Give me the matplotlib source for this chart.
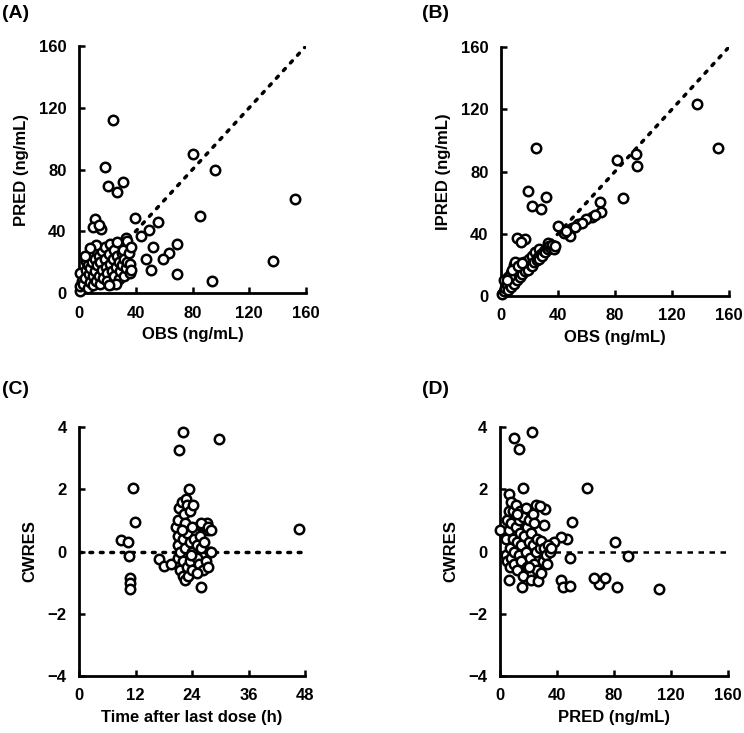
import matplotlib
matplotlib.use("Agg")
import matplotlib.pyplot as plt

plt.rcParams['font.family'] = ['Liberation Sans', 'DejaVu Sans']

# ---------------- Panel A: OBS vs PRED ----------------
a_obs = [24, 18.5, 20.5, 27, 31, 80.5, 96, 152, 85, 137, 94, 69, 69, 63.5, 59, 52, 56, 49.5, 44,
         39.5, 47.5, 51, 33, 11, 10, 15.5, 14,
         1, 1, 1, 2, 3, 4, 5, 5, 6, 6, 7, 7, 8, 8, 9, 9, 10, 10, 11, 11, 12, 12, 13, 14, 14, 15,
         15, 16, 16, 17, 18, 18, 19, 20, 20, 21, 22, 22, 23, 23, 24, 25, 25, 26, 27, 27, 28, 28,
         29, 30, 30, 31, 32, 32, 33, 34, 34, 35, 36, 36, 37, 37, 12, 8, 4, 26, 21]
a_pred = [112, 81.5, 69, 65.5, 72, 90, 80, 61, 50, 21, 8, 12, 32, 26, 22, 30, 46, 41, 37,
          48.5, 22, 15, 35.5, 48, 43, 41.5, 44,
          1, 4.5, 13, 8, 6, 10, 15, 21, 3, 18, 12, 24, 7, 16, 20, 26, 5, 11, 14, 22, 28, 8, 18, 24,
          11, 6, 20, 27, 15, 10, 22, 30, 17, 13, 8, 25, 32, 19, 6, 14, 22, 28, 11, 17, 24, 33, 20,
          9, 14, 26, 18, 28, 11, 22, 16, 34, 20, 26, 13, 19, 15, 30, 31, 29, 24, 6, 5]

# ---------------- Panel B: OBS vs IPRED ----------------
b_obs = [137.3, 152.5, 24.3, 19.2, 22, 27.8, 31.6, 81.2, 94.7, 95.7, 85.8, 69.7, 70.2, 63.6, 60,
         54.3, 49.6, 48.4, 44.4, 40.2, 66, 11, 16.8, 14, 57, 52, 45.5,
         1, 2, 2, 3, 4, 5, 5, 6, 7, 7, 8, 9, 9, 10, 11, 11, 12, 13, 13, 14, 15, 16, 17, 17, 18,
         19, 20, 21, 22, 22, 23, 24, 25, 26, 27, 27, 28, 29, 30, 31, 32, 33, 33, 34, 35, 36, 37,
         38, 6, 10, 8, 12, 15, 4]
b_ipred = [123.2, 94.8, 95.4, 67.4, 58, 55.6, 63.3, 87.7, 91, 83.6, 63.1, 60.5, 53.7, 50.5, 49.2,
           46.2, 43.4, 38.5, 40.2, 45, 52, 37.4, 36.4, 34.5, 47, 44.5, 42,
           1, 3, 10, 5, 7, 4, 12, 9, 6, 15, 11, 8, 20, 13, 10, 18, 15, 12, 21, 17, 14, 22, 19, 16,
           21, 17, 24, 20, 26, 19, 22, 28, 23, 25, 24, 30, 27, 26, 29, 28, 31, 34, 30, 32, 31, 33,
           30, 32, 13, 22, 17, 19, 21, 10]

# ---------------- Panel C: time vs CWRES ----------------
c_time = [22.1, 21.3, 29.8, 11.5, 23.4, 11.8, 46.8, 8.9, 10.4, 10.6, 10.8, 10.8, 10.8, 17, 18,
          19.6, 26, 27.4, 27.1, 25.7, 27.8, 27.1, 25.7,
          20.5, 21, 21, 21, 21, 21.3, 21.5, 21.5, 21.8, 22, 22, 22, 22.3, 22.5, 22.5, 22.5, 22.7,
          23, 23, 23, 23.2, 23.5, 23.5, 23.6, 24, 24, 24, 24.3, 24.5, 25, 25, 25.5, 25.8, 26, 26,
          26.3, 26.5, 27, 27.3, 27.5, 28, 28, 25, 21.8, 23.8]
c_cwres = [3.85, 3.25, 3.6, 2.05, 2.0, 0.95, 0.72, 0.38, 0.3, -0.13, -0.85, -1.0, -1.2, -0.25,
           -0.45, -0.4, -1.15, 0.7, 0.9, 0.85, 0.0, -0.5, -0.55,
           0.8, 1.0, 0.5, 0.2, -0.2, 1.4, -0.6, 0.0, 1.6, -0.8, 0.4, -0.3, 1.2, 0.9, -0.9, 0.1, 1.7,
           -0.5, 0.6, 1.5, -0.8, 0.3, -0.3, 1.3, 0.0, 0.8, -0.6, 1.5, 0.4, -0.2, 0.2, -0.4, 0.5, 0.9,
           0.1, -0.6, 0.3, -0.3, 0.8, -0.5, 0.7, 0.0, -0.7, 0.7, -0.1]

# ---------------- Panel D: PRED vs CWRES ----------------
d_pred = [22.2, 9.8, 13.3, 16.1, 61.2, 50.2, 80.4, 90, 111.4, 82.2, 69.4, 66, 73.4, 43, 44.4,
          48.8, 48.8, 47.2, 42.5, 37.9, 31.5, 30.8, 0, 6.3, 15.7, 6.3,
          4, 4, 5, 5, 6, 6, 7, 7, 8, 8, 8, 9, 9, 10, 10, 11, 11, 12, 12, 13, 13, 14, 14, 15, 15, 16,
          16, 17, 18, 18, 19, 19, 20, 20, 21, 22, 22, 23, 23, 24, 24, 25, 25, 26, 26, 27, 28, 28,
          29, 29, 30, 31, 32, 33, 34, 35, 36, 20, 12]
d_cwres = [3.85, 3.65, 3.3, 2.05, 2.05, 0.95, 0.3, -0.15, -1.2, -1.15, -1.05, -0.85, -0.85, -0.93,
           -1.15, -1.1, -0.2, 0.4, 0.45, 0.3, 1.35, 0.85, 0.7, 1.85, -1.15, -0.9,
           0.4, -0.1, 1.0, -0.3, 0.7, 1.3, 0.1, -0.5, 0.9, 1.6, -0.2, 0.4, 1.3, -0.4, 0.0, 0.8, 1.5,
           -0.6, 0.3, 1.0, -0.1, 0.6, 1.3, -0.3, 0.2, 1.1, -0.8, 0.5, 0.0, 1.4, -0.5, 0.8, 0.3, 1.0,
           -0.2, 0.6, -0.9, 0.2, 1.2, -0.4, 0.9, 1.5, 0.0, -0.6, 0.4, -0.95, 0.1, 1.45, -0.7, 0.35,
           -0.3, 0.1, -0.1, -0.4, 0.2, 0.0, 0.1, -0.5, 1.2]

conc_ticks = [0, 40, 80, 120, 160]
time_ticks = [0, 12, 24, 36, 48]
cwres_ticks = [-4, -2, 0, 2, 4]

fig = plt.figure(figsize=(7.44, 7.33), dpi=100)

boxes = {
    'A': [79 / 744, 1 - 293 / 733, 227 / 744, 247 / 733],
    'B': [501 / 744, 1 - 296 / 733, 228 / 744, 249 / 733],
    'C': [79 / 744, 1 - 676 / 733, 226 / 744, 249 / 733],
    'D': [500 / 744, 1 - 676 / 733, 228 / 744, 249 / 733],
}

tick_fs = 12
label_fs = 12


def style(ax, xlim, ylim, xticks, yticks, xlabel, ylabel):
    ax.set_xlim(*xlim)
    ax.set_ylim(*ylim)
    ax.set_xticks(xticks)
    ax.set_yticks(yticks)
    for s in ['top', 'right']:
        ax.spines[s].set_visible(False)
    for s in ['left', 'bottom']:
        ax.spines[s].set_linewidth(2.0)
    ax.tick_params(direction='in', length=4, width=1.8, pad=9, labelsize=tick_fs)
    for lab in ax.get_xticklabels() + ax.get_yticklabels():
        lab.set_fontweight('bold')
    ax.set_xlabel(xlabel, fontsize=label_fs, fontweight='bold', labelpad=5)
    ax.set_ylabel(ylabel, fontsize=label_fs, fontweight='bold', labelpad=7)
    ax.patch.set_visible(False)


def scatter(ax, x, y):
    ax.plot(x, y, linestyle='none', marker='o', markersize=6.8, markerfacecolor='white',
            markeredgecolor='black', markeredgewidth=1.8, clip_on=False, zorder=3)


# Panel A
axA = fig.add_axes(boxes['A'])
axA.plot([0, 160], [0, 160], color='black', linestyle=(0, (0.8, 2.2)), linewidth=2.5,
         dash_capstyle='round', zorder=1)
scatter(axA, a_obs, a_pred)
style(axA, (0, 160), (0, 160), conc_ticks, conc_ticks, 'OBS (ng/mL)', 'PRED (ng/mL)')

# Panel B
axB = fig.add_axes(boxes['B'])
axB.plot([0, 160], [0, 160], color='black', linestyle=(0, (0.8, 2.2)), linewidth=2.5,
         dash_capstyle='round', zorder=1)
scatter(axB, b_obs, b_ipred)
style(axB, (0, 160), (0, 160), conc_ticks, conc_ticks, 'OBS (ng/mL)', 'IPRED (ng/mL)')

# Panel C
axC = fig.add_axes(boxes['C'])
axC.plot([0, 48], [0, 0], color='black', linestyle=(0, (0.8, 2.2)), linewidth=2.5,
         dash_capstyle='round', zorder=1)
scatter(axC, c_time, c_cwres)
style(axC, (0, 48), (-4, 4), time_ticks, cwres_ticks, 'Time after last dose (h)', 'CWRES')

# Panel D
axD = fig.add_axes(boxes['D'])
axD.plot([0, 160], [0, 0], color='black', linestyle=(0, (2.2, 2.2)), linewidth=1.8, zorder=1)
scatter(axD, d_pred, d_cwres)
style(axD, (0, 160), (-4, 4), conc_ticks, cwres_ticks, 'PRED (ng/mL)', 'CWRES')

# Panel letters
fig.text(2 / 744, 1 - 13 / 733, '(A)', fontsize=14, fontweight='bold', va='center', ha='left')
fig.text(422 / 744, 1 - 13 / 733, '(B)', fontsize=14, fontweight='bold', va='center', ha='left')
fig.text(2 / 744, 1 - 390 / 733, '(C)', fontsize=14, fontweight='bold', va='center', ha='left')
fig.text(422 / 744, 1 - 390 / 733, '(D)', fontsize=14, fontweight='bold', va='center', ha='left')

fig.savefig('out.png', dpi=100)
